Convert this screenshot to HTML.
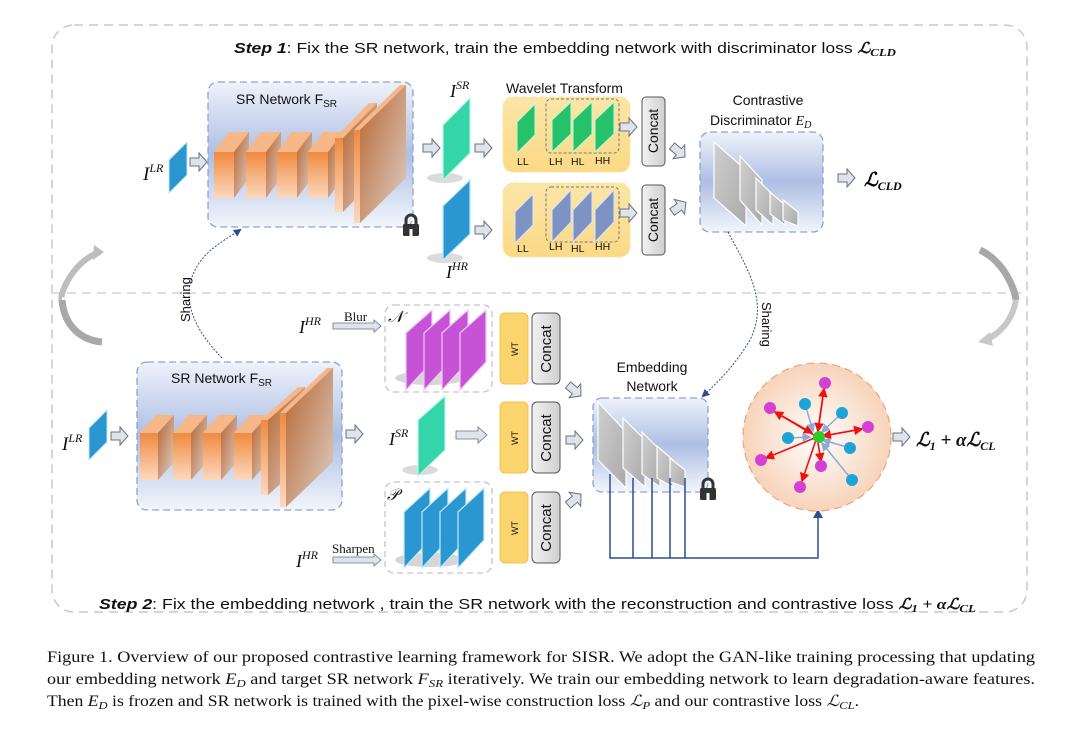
<!DOCTYPE html>
<html><head><meta charset="utf-8"><style>
html,body{margin:0;padding:0;background:#fff;width:1080px;height:730px;overflow:hidden}
svg{display:block}
.s{font-family:"Liberation Sans",sans-serif;fill:#111}
.m{font-family:"Liberation Serif",serif;font-style:italic;fill:#111}
.c{font-family:"Liberation Serif",serif;fill:#111;font-size:15.5px}
</style></head><body>
<svg width="1080" height="730" viewBox="0 0 1080 730" xmlns="http://www.w3.org/2000/svg">
<defs>
<linearGradient id="box" x1="0" y1="0" x2="0" y2="1"><stop offset="0" stop-color="#eef2fa"/><stop offset="0.5" stop-color="#aebfe4"/><stop offset="1" stop-color="#f2f5fb"/></linearGradient>
<linearGradient id="of" x1="0" y1="0" x2="0" y2="1"><stop offset="0" stop-color="#f08a3e"/><stop offset="1" stop-color="#fcd9bf"/></linearGradient>
<linearGradient id="os" x1="0" y1="0" x2="1" y2="1"><stop offset="0" stop-color="#b8642f"/><stop offset="1" stop-color="#ddd0c8"/></linearGradient>
<linearGradient id="gy" x1="0" y1="0" x2="1" y2="1"><stop offset="0" stop-color="#d0d0d0"/><stop offset="1" stop-color="#a9a9a9"/></linearGradient>
<linearGradient id="yl" x1="0" y1="0" x2="0" y2="1"><stop offset="0" stop-color="#fbe6a8"/><stop offset="1" stop-color="#fbd985"/></linearGradient>
<radialGradient id="cir"><stop offset="0" stop-color="#fff"/><stop offset="1" stop-color="#f7d3ba"/></radialGradient>
<linearGradient id="cc" x1="0" y1="0" x2="1" y2="0"><stop offset="0" stop-color="#f2f2f2"/><stop offset="1" stop-color="#cfcfcf"/></linearGradient>
<marker id="ab" markerWidth="8" markerHeight="8" refX="6" refY="4" orient="auto"><path d="M0,0 L8,4 L0,8z" fill="#2e4d8f"/></marker>
<marker id="ar" markerWidth="6" markerHeight="6" refX="5" refY="3" orient="auto"><path d="M0,0 L6,3 L0,6z" fill="#e11"/></marker>
<marker id="ac" markerWidth="6" markerHeight="6" refX="5" refY="3" orient="auto"><path d="M0,0 L6,3 L0,6z" fill="#8fa8d8"/></marker>
<g id="arr"><path d="M0,-4 H9 V-9 L17,0 L9,9 V4 H0z" fill="#dfe3ea" stroke="#6b7280" stroke-width="1"/></g>
<g id="lock"><path d="M-5,-2 V-6 A5,5 0 0 1 5,-6 V-2" fill="none" stroke="#333" stroke-width="3"/><rect x="-8" y="-2" width="16" height="12" rx="1.5" fill="#333"/><rect x="-1.5" y="3" width="3" height="7" fill="#fff"/></g>
</defs>

<!-- outer frame -->
<rect x="52" y="25" width="975" height="587" rx="22" fill="none" stroke="#c8c8c8" stroke-width="1.5" stroke-dasharray="9,6"/>
<line x1="52" y1="293" x2="1027" y2="293" stroke="#d3d3d3" stroke-width="1.5" stroke-dasharray="9,6"/>
<text class="s" x="234" y="53" font-size="15" textLength="662" lengthAdjust="spacingAndGlyphs"><tspan font-weight="bold" font-style="italic">Step 1</tspan>: Fix the SR network, train the embedding network with discriminator loss  <tspan font-family="Liberation Serif" font-weight="bold" font-style="italic">ℒ<tspan font-size="11" dy="3">CLD</tspan></tspan></text>
<text class="s" x="99" y="609" font-size="15" textLength="877" lengthAdjust="spacingAndGlyphs"><tspan font-weight="bold" font-style="italic">Step 2</tspan>: Fix the embedding network , train the SR network with the reconstruction and contrastive loss <tspan font-family="Liberation Serif" font-weight="bold" font-style="italic">ℒ<tspan font-size="11" dy="3">1</tspan><tspan dy="-3"> + αℒ</tspan><tspan font-size="11" dy="3">CL</tspan></tspan></text>

<!-- curved gray arrows -->
<path d="M100,252 C70,262 58,300 62,300" fill="none" stroke="#bdbdbd" stroke-width="6"/>
<path d="M62,300 C64,325 80,340 102,342" fill="none" stroke="#a8a8a8" stroke-width="7"/>
<path d="M94,245 L104,252 L93,260z" fill="#bdbdbd"/>
<path d="M980,250 C1005,262 1015,290 1016,300" fill="none" stroke="#a8a8a8" stroke-width="7"/>
<path d="M1016,300 C1012,322 998,335 985,340" fill="none" stroke="#c8c8c8" stroke-width="6"/>
<path d="M990,332 L978,342 L993,346z" fill="#c8c8c8"/>

<!-- ===== TOP SR network ===== -->
<rect x="208" y="82" width="205" height="145" rx="10" fill="url(#box)" stroke="#8ea3cc" stroke-width="1.3" stroke-dasharray="7,4"/>
<text class="s" x="236" y="104" font-size="14">SR Network F<tspan font-size="10" dy="3">SR</tspan></text>
<g>
<g transform="translate(214,152)"><path d="M0,0 L15,-20 L35,-20 L20,0z" fill="#f6b789"/><path d="M20,0 L35,-20 L35,26 L20,46z" fill="url(#os)"/><rect width="20" height="46" fill="url(#of)"/></g>
<g transform="translate(246,152)"><path d="M0,0 L15,-20 L35,-20 L20,0z" fill="#f6b789"/><path d="M20,0 L35,-20 L35,26 L20,46z" fill="url(#os)"/><rect width="20" height="46" fill="url(#of)"/></g>
<g transform="translate(277,152)"><path d="M0,0 L15,-20 L35,-20 L20,0z" fill="#f6b789"/><path d="M20,0 L35,-20 L35,26 L20,46z" fill="url(#os)"/><rect width="20" height="46" fill="url(#of)"/></g>
<g transform="translate(308,152)"><path d="M0,0 L15,-20 L35,-20 L20,0z" fill="#f6b789"/><path d="M20,0 L35,-20 L35,26 L20,46z" fill="url(#os)"/><rect width="20" height="46" fill="url(#of)"/></g>
<g transform="translate(335,138)"><path d="M0,0 L34,-35 L42,-35 L8,0z" fill="#f6b789"/><path d="M8,0 L42,-35 L42,39 L8,74z" fill="url(#os)"/><rect width="8" height="74" fill="url(#of)"/></g>
<g transform="translate(354,130)"><path d="M0,0 L46,-45 L52,-45 L6,0z" fill="#f6b789"/><path d="M6,0 L52,-45 L52,48 L6,93z" fill="url(#os)"/><rect width="6" height="93" fill="url(#of)"/></g>
</g>
<use href="#lock" x="411" y="226"/>
<text class="m" x="143" y="180" font-size="19">I<tspan font-size="12" dy="-8">LR</tspan></text>
<path d="M169,160 L187,142 L187,175 L169,193z" fill="#2a96cf" stroke="#bfe6fb" stroke-width="1"/>
<use href="#arr" x="190" y="162"/>
<use href="#arr" x="423" y="148"/>
<!-- I SR / I HR panels -->
<text class="m" x="450" y="97" font-size="18">I<tspan font-size="12" dy="-8">SR</tspan></text>
<ellipse cx="445" cy="178" rx="18" ry="5" fill="#ccc" opacity="0.7"/>
<path d="M443,125 L470,98 L470,153 L443,180z" fill="#34d6a9" stroke="#bff5e3" stroke-width="1.2"/>
<ellipse cx="445" cy="258" rx="18" ry="5" fill="#ccc" opacity="0.7"/>
<path d="M443,206 L470,180 L470,234 L443,260z" fill="#2b97d0" stroke="#bfe9fc" stroke-width="1.2"/>
<text class="m" x="446" y="278" font-size="18">I<tspan font-size="12" dy="-8">HR</tspan></text>
<use href="#arr" x="475" y="148"/>
<use href="#arr" x="475" y="230"/>

<!-- wavelet -->
<text class="s" x="506" y="93" font-size="14">Wavelet Transform</text>
<rect x="503" y="97" width="127" height="75" rx="10" fill="url(#yl)" stroke="#fce4a0" stroke-dasharray="6,3"/>
<rect x="503" y="183" width="127" height="74" rx="10" fill="url(#yl)" stroke="#fce4a0" stroke-dasharray="6,3"/>
<rect x="546" y="99" width="73" height="54" rx="5" fill="none" stroke="#777" stroke-dasharray="3,2"/>
<rect x="546" y="187" width="73" height="55" rx="5" fill="none" stroke="#777" stroke-dasharray="3,2"/>
<g fill="#25c269" stroke="#c7f5d9" stroke-width="1">
<path d="M517,122 L535,104 L535,135 L517,153z"/><path d="M552,120 L571,102 L571,134 L552,152z"/><path d="M573,120 L592,102 L592,134 L573,152z"/><path d="M595,120 L614,102 L614,134 L595,152z"/>
</g>
<g fill="#7d93c4" stroke="#dde4f5" stroke-width="1">
<path d="M515,212 L533,194 L533,225 L515,243z"/><path d="M552,210 L571,190 L571,222 L552,242z"/><path d="M573,210 L592,190 L592,222 L573,242z"/><path d="M595,210 L614,190 L614,222 L595,242z"/>
</g>
<g class="s" font-size="10.5"><text x="517" y="165">LL</text><text x="549" y="165">LH</text><text x="571" y="165">HL</text><text x="595" y="164">HH</text>
<text x="517" y="252">LL</text><text x="549" y="250">LH</text><text x="571" y="252">HL</text><text x="595" y="250">HH</text></g>
<use href="#arr" x="620" y="127"/>
<use href="#arr" x="620" y="213"/>
<rect x="642" y="97" width="23" height="69" rx="4" fill="url(#cc)" stroke="#555"/>
<rect x="642" y="185" width="23" height="70" rx="4" fill="url(#cc)" stroke="#555"/>
<text class="s" font-size="14" transform="translate(658,131) rotate(-90)" text-anchor="middle">Concat</text>
<text class="s" font-size="14" transform="translate(658,220) rotate(-90)" text-anchor="middle">Concat</text>
<use href="#arr" transform="translate(672,146) rotate(40)"/>
<use href="#arr" transform="translate(672,212) rotate(-35)"/>

<!-- discriminator -->
<text class="s" x="768" y="105" font-size="14" text-anchor="middle">Contrastive</text>
<text class="s" x="710" y="125" font-size="14">Discriminator <tspan font-family="Liberation Serif" font-style="italic">E<tspan font-size="10" dy="3">D</tspan></tspan></text>
<rect x="700" y="132" width="123" height="100" rx="10" fill="url(#box)" stroke="#8ea3cc" stroke-width="1.3" stroke-dasharray="7,4"/>
<g fill="url(#gy)" stroke="#fff" stroke-width="1.2">
<path d="M714,142 L746,170 L746,226 L714,198z"/><path d="M740,156 L762,180 L762,225 L740,200z"/><path d="M756,178 L773,195 L773,225 L756,210z"/><path d="M770,192 L785,205 L785,225 L770,214z"/><path d="M783,200 L798,212 L798,226 L783,220z"/>
</g>
<use href="#arr" x="838" y="178"/>
<text x="864" y="186" font-family="Liberation Serif" font-weight="bold" font-style="italic" font-size="19">ℒ<tspan font-size="12" dy="4">CLD</tspan></text>
<!-- sharing right -->
<path d="M728,232 C745,265 770,300 750,340 C735,365 720,380 703,396" fill="none" stroke="#2e4d8f" stroke-width="1" stroke-dasharray="2,1.5" marker-end="url(#ab)"/>
<text class="s" font-size="13" transform="translate(762,302) rotate(90)">Sharing</text>

<!-- ===== BOTTOM ===== -->
<rect x="137" y="362" width="205" height="148" rx="10" fill="url(#box)" stroke="#8ea3cc" stroke-width="1.3" stroke-dasharray="7,4"/>
<text class="s" x="171" y="383" font-size="14">SR Network F<tspan font-size="10" dy="3">SR</tspan></text>
<g transform="translate(140,433)"><path d="M0,0 L16,-18 L34,-18 L18,0z" fill="#f6b789"/><path d="M18,0 L34,-18 L34,29 L18,47z" fill="url(#os)"/><rect width="18" height="47" fill="url(#of)"/></g>
<g transform="translate(173,433)"><path d="M0,0 L16,-18 L34,-18 L18,0z" fill="#f6b789"/><path d="M18,0 L34,-18 L34,29 L18,47z" fill="url(#os)"/><rect width="18" height="47" fill="url(#of)"/></g>
<g transform="translate(203,433)"><path d="M0,0 L16,-18 L34,-18 L18,0z" fill="#f6b789"/><path d="M18,0 L34,-18 L34,29 L18,47z" fill="url(#os)"/><rect width="18" height="47" fill="url(#of)"/></g>
<g transform="translate(234,433)"><path d="M0,0 L16,-18 L34,-18 L18,0z" fill="#f6b789"/><path d="M18,0 L34,-18 L34,29 L18,47z" fill="url(#os)"/><rect width="18" height="47" fill="url(#of)"/></g>
<g transform="translate(261,420)"><path d="M0,0 L37,-33 L44,-33 L7,0z" fill="#f6b789"/><path d="M7,0 L44,-33 L44,42 L7,75z" fill="url(#os)"/><rect width="7" height="75" fill="url(#of)"/></g>
<g transform="translate(280,413)"><path d="M0,0 L47,-45 L53,-45 L6,0z" fill="#f6b789"/><path d="M6,0 L53,-45 L53,49 L6,94z" fill="url(#os)"/><rect width="6" height="94" fill="url(#of)"/></g>
<text class="m" x="62" y="450" font-size="19">I<tspan font-size="12" dy="-8">LR</tspan></text>
<path d="M89,428 L107,410 L107,442 L89,460z" fill="#2a96cf" stroke="#bfe6fb" stroke-width="1"/>
<use href="#arr" x="111" y="436"/>
<use href="#arr" x="346" y="434"/>
<!-- sharing left -->
<path d="M222,358 C195,330 180,300 195,270 C205,250 225,240 240,230" fill="none" stroke="#2e4d8f" stroke-width="1" stroke-dasharray="2,1.5" marker-end="url(#ab)"/>
<text class="s" font-size="13" transform="translate(190,322) rotate(-90)">Sharing</text>

<!-- blur row -->
<text class="m" x="299" y="333" font-size="18">I<tspan font-size="12" dy="-8">HR</tspan></text>
<text x="344" y="321" font-family="Liberation Serif" font-size="13" fill="#111">Blur</text>
<path d="M333,323 H374 V320 L381,326 L374,332 V329 H333z" fill="#dfe3ea" stroke="#6b7280" stroke-width="0.8"/>
<rect x="385" y="305" width="107" height="87" rx="9" fill="none" stroke="#c5c5c5" stroke-width="1.3" stroke-dasharray="6,4"/>
<text x="388" y="322" font-family="Liberation Serif" font-style="italic" font-size="16" fill="#111">𝒩</text>
<ellipse cx="430" cy="378" rx="35" ry="7" fill="#bbb" opacity="0.6"/>
<g fill="#c653d6" stroke="#f2c6f7" stroke-width="1.2">
<path d="M406,333 L432,310 L432,362 L406,390z"/><path d="M424,333 L450,310 L450,362 L424,390z"/><path d="M442,333 L468,310 L468,362 L442,390z"/><path d="M460,333 L486,310 L486,362 L460,390z"/>
</g>
<!-- I SR row -->
<text class="m" x="389" y="445" font-size="18">I<tspan font-size="12" dy="-8">SR</tspan></text>
<ellipse cx="420" cy="470" rx="18" ry="5" fill="#ccc" opacity="0.7"/>
<path d="M418,420 L445,396 L445,450 L418,476z" fill="#34d6a9" stroke="#bff5e3" stroke-width="1.2"/>
<path d="M456,431 H478 V427 L487,435 L478,443 V439 H456z" fill="#dfe3ea" stroke="#6b7280" stroke-width="0.8"/>
<!-- sharpen row -->
<rect x="385" y="482" width="107" height="91" rx="9" fill="none" stroke="#c5c5c5" stroke-width="1.3" stroke-dasharray="6,4"/>
<text x="387" y="500" font-family="Liberation Serif" font-style="italic" font-size="16" fill="#111">𝒫</text>
<ellipse cx="430" cy="560" rx="35" ry="7" fill="#bbb" opacity="0.6"/>
<g fill="#2b97d0" stroke="#c1ebfd" stroke-width="1.2">
<path d="M404,512 L430,488 L430,540 L404,568z"/><path d="M422,512 L448,488 L448,540 L422,568z"/><path d="M440,512 L466,488 L466,540 L440,568z"/><path d="M458,512 L484,488 L484,540 L458,568z"/>
</g>
<text class="m" x="296" y="567" font-size="18">I<tspan font-size="12" dy="-8">HR</tspan></text>
<text x="332" y="553" font-family="Liberation Serif" font-size="13" fill="#111">Sharpen</text>
<path d="M333,557 H374 V554 L381,560 L374,566 V563 H333z" fill="#dfe3ea" stroke="#6b7280" stroke-width="0.8"/>
<!-- WT / concat -->
<g fill="#fbd46e" stroke="#f5c04a">
<rect x="500" y="313" width="28" height="71" rx="5"/><rect x="500" y="402" width="28" height="71" rx="5"/><rect x="500" y="492" width="28" height="71" rx="5"/></g>
<g fill="url(#cc)" stroke="#555">
<rect x="532" y="313" width="28" height="71" rx="5"/><rect x="532" y="402" width="28" height="71" rx="5"/><rect x="532" y="492" width="28" height="71" rx="5"/></g>
<g class="s" font-size="9"><text transform="translate(518,349) rotate(-90)" text-anchor="middle">WT</text><text transform="translate(518,438) rotate(-90)" text-anchor="middle">WT</text><text transform="translate(518,528) rotate(-90)" text-anchor="middle">WT</text></g>
<g class="s" font-size="15"><text transform="translate(551,349) rotate(-90)" text-anchor="middle">Concat</text><text transform="translate(551,438) rotate(-90)" text-anchor="middle">Concat</text><text transform="translate(551,528) rotate(-90)" text-anchor="middle">Concat</text></g>
<use href="#arr" transform="translate(568,385) rotate(40)"/>
<use href="#arr" x="566" y="440"/>
<use href="#arr" transform="translate(568,505) rotate(-40)"/>
<!-- embedding -->
<text class="s" x="652" y="372" font-size="14" text-anchor="middle">Embedding</text>
<text class="s" x="652" y="391" font-size="14" text-anchor="middle">Network</text>
<rect x="593" y="398" width="115" height="94" rx="9" fill="url(#box)" stroke="#8ea3cc" stroke-width="1.3" stroke-dasharray="7,4"/>
<g fill="url(#gy)" stroke="#fff" stroke-width="1.2">
<path d="M598,402 L626,432 L626,488 L598,460z"/><path d="M623,418 L645,440 L645,487 L623,468z"/><path d="M642,432 L660,450 L660,487 L642,474z"/><path d="M657,446 L673,460 L673,487 L657,478z"/><path d="M670,458 L685,470 L685,487 L670,482z"/>
</g>
<use href="#lock" x="708" y="490"/>
<g stroke="#2e4d8f" stroke-width="1.5" fill="none">
<path d="M610,474 V558 H818 V516"/><path d="M633,478 V558"/><path d="M652,478 V558"/><path d="M670,478 V558"/><path d="M685,478 V558"/>
</g>
<path d="M813,518 L818,509 L823,518z" fill="#2e4d8f"/>
<!-- circle -->
<circle cx="817" cy="437" r="74" fill="url(#cir)" stroke="#e8a57f" stroke-width="1.2" stroke-dasharray="8,5"/>
<g stroke="#e11" stroke-width="1.6" marker-end="url(#ar)">
<line x1="817" y1="437" x2="824" y2="389"/><line x1="817" y1="437" x2="775" y2="412"/><line x1="817" y1="437" x2="862" y2="429"/><line x1="817" y1="437" x2="766" y2="458"/><line x1="817" y1="437" x2="802" y2="481"/><line x1="817" y1="437" x2="821" y2="461"/>
<line x1="824" y1="389" x2="818" y2="431"/><line x1="862" y1="429" x2="823" y2="436"/><line x1="775" y1="412" x2="812" y2="433"/>
</g>
<g stroke="#8fa8d8" stroke-width="1.5" marker-end="url(#ac)">
<line x1="805" y1="404" x2="813" y2="431"/><line x1="842" y1="413" x2="822" y2="432"/><line x1="788" y1="438" x2="810" y2="437"/><line x1="850" y1="448" x2="823" y2="440"/><line x1="852" y1="480" x2="822" y2="443"/>
</g>
<g fill="#d63fd3"><circle cx="825" cy="383" r="6"/><circle cx="770" cy="408" r="6"/><circle cx="868" cy="427" r="6"/><circle cx="761" cy="460" r="6"/><circle cx="800" cy="487" r="6"/><circle cx="821" cy="466" r="6"/></g>
<g fill="#1ea3d8"><circle cx="805" cy="404" r="6"/><circle cx="842" cy="413" r="6"/><circle cx="788" cy="438" r="6"/><circle cx="850" cy="448" r="6"/><circle cx="852" cy="480" r="6"/></g>
<circle cx="819" cy="437" r="6" fill="#2dcc2d"/>
<use href="#arr" x="893" y="437"/>
<text x="916" y="446" font-family="Liberation Serif" font-weight="bold" font-style="italic" font-size="19" fill="#111">ℒ<tspan font-size="12" dy="4">1</tspan><tspan dy="-4"> + αℒ</tspan><tspan font-size="12" dy="4">CL</tspan></text>

<!-- caption -->
<text class="c" x="47" y="662" textLength="988" lengthAdjust="spacingAndGlyphs">Figure 1. Overview of our proposed contrastive learning framework for SISR. We adopt the GAN-like training processing that updating</text>
<text class="c" x="47" y="684" textLength="988" lengthAdjust="spacingAndGlyphs">our embedding network <tspan font-style="italic">E</tspan><tspan font-style="italic" font-size="11" dy="3">D</tspan><tspan dy="-3"> and target SR network </tspan><tspan font-style="italic">F</tspan><tspan font-style="italic" font-size="11" dy="3">SR</tspan><tspan dy="-3"> iteratively. We train our embedding network to learn degradation-aware features.</tspan></text>
<text class="c" x="47" y="706" textLength="812" lengthAdjust="spacingAndGlyphs">Then <tspan font-style="italic">E</tspan><tspan font-style="italic" font-size="11" dy="3">D</tspan><tspan dy="-3"> is frozen and SR network is trained with the pixel-wise construction loss </tspan><tspan font-style="italic">ℒ</tspan><tspan font-style="italic" font-size="11" dy="3">P</tspan><tspan dy="-3"> and our contrastive loss </tspan><tspan font-style="italic">ℒ</tspan><tspan font-style="italic" font-size="11" dy="3">CL</tspan><tspan dy="-3">.</tspan></text>
</svg>
</body></html>
